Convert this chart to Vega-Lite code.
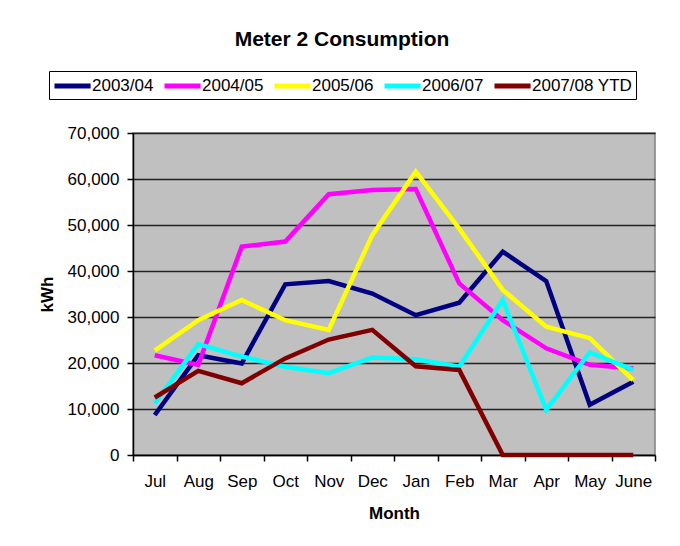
{
  "$schema": "https://vega.github.io/schema/vega-lite/v6.json",
  "width": 522,
  "height": 322,
  "autosize": {"type": "none"},
  "padding": {"left": 133, "top": 133, "right": 25, "bottom": 91},
  "background": "white",
  "title": {
    "text": "Meter 2 Consumption",
    "font": "Liberation Sans",
    "fontSize": 21,
    "fontWeight": "bold",
    "color": "black",
    "anchor": "middle",
    "dx": -52,
    "offset": 21
  },
  "data": {
    "values": [
      {"month": "Jul", "series": "2003/04", "kWh": 8700},
      {"month": "Aug", "series": "2003/04", "kWh": 21700},
      {"month": "Sep", "series": "2003/04", "kWh": 19900},
      {"month": "Oct", "series": "2003/04", "kWh": 37100},
      {"month": "Nov", "series": "2003/04", "kWh": 37800},
      {"month": "Dec", "series": "2003/04", "kWh": 35100},
      {"month": "Jan", "series": "2003/04", "kWh": 30400},
      {"month": "Feb", "series": "2003/04", "kWh": 33100},
      {"month": "Mar", "series": "2003/04", "kWh": 44200},
      {"month": "Apr", "series": "2003/04", "kWh": 37800},
      {"month": "May", "series": "2003/04", "kWh": 10900},
      {"month": "June", "series": "2003/04", "kWh": 15900},
      {"month": "Jul", "series": "2004/05", "kWh": 21700},
      {"month": "Aug", "series": "2004/05", "kWh": 19600},
      {"month": "Sep", "series": "2004/05", "kWh": 45300},
      {"month": "Oct", "series": "2004/05", "kWh": 46400},
      {"month": "Nov", "series": "2004/05", "kWh": 56700},
      {"month": "Dec", "series": "2004/05", "kWh": 57600},
      {"month": "Jan", "series": "2004/05", "kWh": 57800},
      {"month": "Feb", "series": "2004/05", "kWh": 37300},
      {"month": "Mar", "series": "2004/05", "kWh": 29300},
      {"month": "Apr", "series": "2004/05", "kWh": 23200},
      {"month": "May", "series": "2004/05", "kWh": 19600},
      {"month": "June", "series": "2004/05", "kWh": 18800},
      {"month": "Jul", "series": "2005/06", "kWh": 22700},
      {"month": "Aug", "series": "2005/06", "kWh": 29300},
      {"month": "Sep", "series": "2005/06", "kWh": 33700},
      {"month": "Oct", "series": "2005/06", "kWh": 29300},
      {"month": "Nov", "series": "2005/06", "kWh": 27200},
      {"month": "Dec", "series": "2005/06", "kWh": 47800},
      {"month": "Jan", "series": "2005/06", "kWh": 61600},
      {"month": "Feb", "series": "2005/06", "kWh": 49200},
      {"month": "Mar", "series": "2005/06", "kWh": 35900},
      {"month": "Apr", "series": "2005/06", "kWh": 27900},
      {"month": "May", "series": "2005/06", "kWh": 25400},
      {"month": "June", "series": "2005/06", "kWh": 16300},
      {"month": "Jul", "series": "2006/07", "kWh": 11200},
      {"month": "Aug", "series": "2006/07", "kWh": 24100},
      {"month": "Sep", "series": "2006/07", "kWh": 21400},
      {"month": "Oct", "series": "2006/07", "kWh": 19200},
      {"month": "Nov", "series": "2006/07", "kWh": 17800},
      {"month": "Dec", "series": "2006/07", "kWh": 21200},
      {"month": "Jan", "series": "2006/07", "kWh": 20800},
      {"month": "Feb", "series": "2006/07", "kWh": 19200},
      {"month": "Mar", "series": "2006/07", "kWh": 33700},
      {"month": "Apr", "series": "2006/07", "kWh": 9800},
      {"month": "May", "series": "2006/07", "kWh": 22300},
      {"month": "June", "series": "2006/07", "kWh": 18500},
      {"month": "Jul", "series": "2007/08 YTD", "kWh": 12500},
      {"month": "Aug", "series": "2007/08 YTD", "kWh": 18300},
      {"month": "Sep", "series": "2007/08 YTD", "kWh": 15600},
      {"month": "Oct", "series": "2007/08 YTD", "kWh": 21000},
      {"month": "Nov", "series": "2007/08 YTD", "kWh": 25100},
      {"month": "Dec", "series": "2007/08 YTD", "kWh": 27200},
      {"month": "Jan", "series": "2007/08 YTD", "kWh": 19300},
      {"month": "Feb", "series": "2007/08 YTD", "kWh": 18500},
      {"month": "Mar", "series": "2007/08 YTD", "kWh": 0},
      {"month": "Apr", "series": "2007/08 YTD", "kWh": 0},
      {"month": "May", "series": "2007/08 YTD", "kWh": 0},
      {"month": "June", "series": "2007/08 YTD", "kWh": 0}
    ]
  },
  "mark": {"type": "line", "strokeWidth": 4.5, "strokeJoin": "miter", "strokeCap": "butt"},
  "encoding": {
    "x": {
      "field": "month",
      "type": "ordinal",
      "sort": ["Jul", "Aug", "Sep", "Oct", "Nov", "Dec", "Jan", "Feb", "Mar", "Apr", "May", "June"],
      "bandPosition": 0.5,
      "scale": {"type": "band", "paddingInner": 0, "paddingOuter": 0},
      "axis": {
        "title": "Month",
        "labelAngle": 0,
        "tickBand": "extent",
        "grid": false,
        "domainColor": "black",
        "tickColor": "black",
        "tickSize": 6,
        "labelPadding": 12,
        "titlePadding": 16
      }
    },
    "y": {
      "field": "kWh",
      "type": "quantitative",
      "scale": {"domain": [0, 70000], "nice": false},
      "axis": {
        "title": "kWh",
        "values": [0, 10000, 20000, 30000, 40000, 50000, 60000, 70000],
        "format": ",d",
        "grid": true,
        "gridColor": "#222222",
        "gridWidth": 1.6,
        "domainColor": "black",
        "tickColor": "black",
        "tickSize": 6,
        "labelPadding": 8,
        "titlePadding": 11
      }
    },
    "color": {
      "field": "series",
      "type": "nominal",
      "scale": {
        "domain": ["2003/04", "2004/05", "2005/06", "2006/07", "2007/08 YTD"],
        "range": ["#000080", "#FF00FF", "#FFFF00", "#00FFFF", "#800000"]
      },
      "legend": {
        "title": null,
        "orient": "none",
        "legendX": -84,
        "legendY": -62,
        "direction": "horizontal",
        "symbolType": "M-1,0H2.8",
        "symbolSize": 361,
        "symbolStrokeWidth": 5,
        "strokeColor": "black",
        "padding": 3,
        "columnPadding": 0,
        "labelOffset": 16
      }
    }
  },
  "config": {
    "view": {"fill": "#C0C0C0", "stroke": "#808080", "strokeWidth": 1.5},
    "axis": {
      "labelFont": "Liberation Sans",
      "labelFontSize": 17,
      "labelColor": "black",
      "titleFont": "Liberation Sans",
      "titleFontSize": 17,
      "titleFontWeight": "bold",
      "titleColor": "black",
      "domainWidth": 1.5,
      "tickWidth": 1.5
    },
    "legend": {
      "labelFont": "Liberation Sans",
      "labelFontSize": 17,
      "labelColor": "black"
    }
  }
}
